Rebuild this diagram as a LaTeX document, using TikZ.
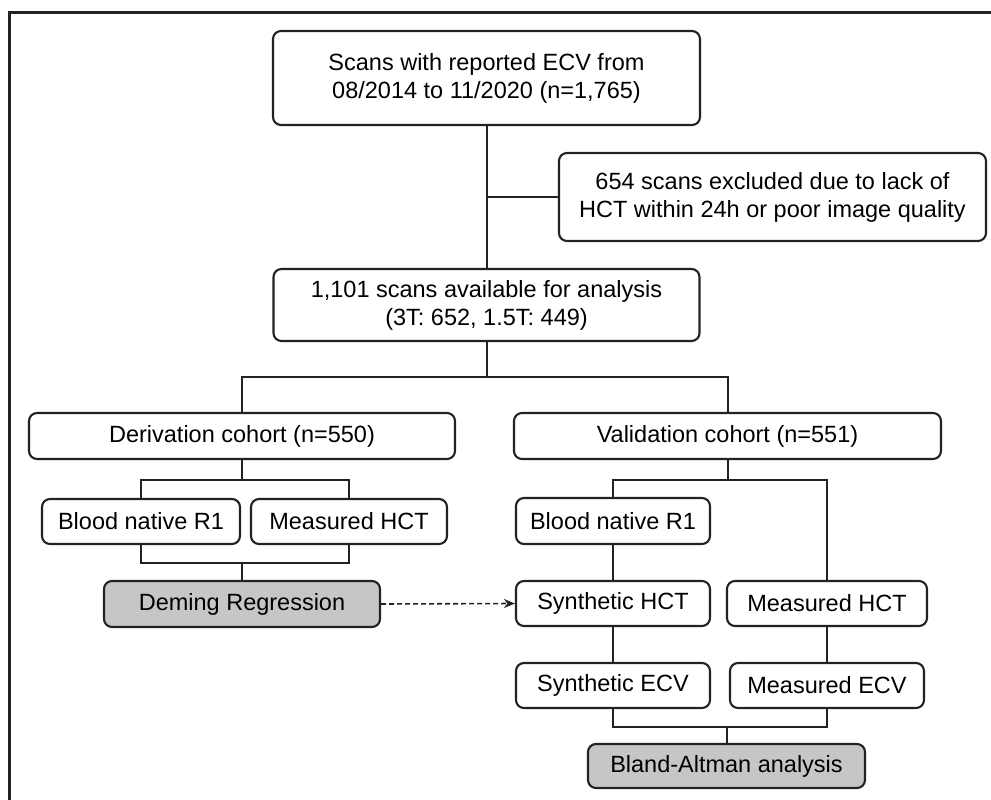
\documentclass[tikz,border=0pt]{standalone}
\usepackage{fontspec}
\setmainfont{Liberation Sans}
\usetikzlibrary{arrows.meta}
\definecolor{ln}{HTML}{222222}
\definecolor{gfill}{HTML}{C6C6C6}
\begin{document}
\begin{tikzpicture}[x=1pt,y=-1pt,
  box/.style={draw=ln,line width=2.1pt,rounded corners=8pt,fill=white,inner sep=0pt,align=center,
    font=\fontsize{23.5}{28}\selectfont,text=black},
  gbox/.style={box,fill=gfill},
  conn/.style={draw=ln,line width=2pt},
  frame/.style={draw=ln,line width=3.2pt}]
\useasboundingbox (0,0) rectangle (991,800);
\draw[frame] (9.5,800) -- (9.5,12.5) -- (991,12.5);

\node[box,minimum width=427pt,minimum height=94pt] (top) at (486.5,78) {Scans with reported ECV from\\08/2014 to 11/2020 (n=1,765)};
\node[box,minimum width=427pt,minimum height=88pt] (excl) at (772.5,197) {654 scans excluded due to lack of\\HCT within 24h or poor image quality};
\node[box,minimum width=426pt,minimum height=72pt] (avail) at (486.5,305) {1,101 scans available for analysis\\(3T: 652, 1.5T: 449)};
\node[box,minimum width=426pt,minimum height=46pt] (deriv) at (242,436) {Derivation cohort (n=550)};
\node[box,minimum width=427pt,minimum height=46pt] (valid) at (727.5,436) {Validation cohort (n=551)};
\node[box,minimum width=198pt,minimum height=45pt] (bl1) at (141,521.5) {Blood native R1};
\node[box,minimum width=196pt,minimum height=45pt] (mh1) at (349,521.5) {Measured HCT};
\node[gbox,minimum width=276pt,minimum height=46pt] (dem) at (242,604) {Deming Regression};
\node[box,minimum width=194pt,minimum height=46pt] (bl2) at (613,521) {Blood native R1};
\node[box,minimum width=194pt,minimum height=45pt] (sh) at (613,603.5) {Synthetic HCT};
\node[box,minimum width=200pt,minimum height=45pt] (mh2) at (827,603.5) {Measured HCT};
\node[box,minimum width=194pt,minimum height=45pt] (se) at (613,685.5) {Synthetic ECV};
\node[box,minimum width=194pt,minimum height=45pt] (me) at (827,685.5) {Measured ECV};
\node[gbox,minimum width=277pt,minimum height=44pt] (ba) at (726.5,766) {Bland-Altman analysis};

% top section
\draw[conn] (top.south) -- (avail.north);
\coordinate (j0) at (top.south |- excl.west);
\draw[conn] (j0) -- (excl.west);
\coordinate (j1) at (486.5,377);
\draw[conn] (avail.south) -- (j1);
\draw[conn] (deriv.north) |- (j1) -| (valid.north);

% derivation
\draw[conn] (deriv.south) -- ++(0,20) coordinate (j2);
\draw[conn] (bl1.north) |- (j2) -| (mh1.north);
\draw[conn] (bl1.south) -- ++(0,18) coordinate (j3) -| (mh1.south);
\draw[conn] (j3 -| dem.north) -- (dem.north);

% validation
\draw[conn] (valid.south) -- ++(0,20) coordinate (j4);
\draw[conn] (bl2.north) |- (j4) -| (mh2.north);
\draw[conn] (bl2.south) -- (sh.north);
\draw[conn] (sh.south) -- (se.north);
\draw[conn] (mh2.south) -- (me.north);
\draw[conn] (se.south) -- ++(0,18) coordinate (j5) -| (me.south);
\draw[conn] (j5 -| ba.north) -- (ba.north);

% dashed arrow
\draw[draw=ln,line width=1.6pt,dash pattern=on 5pt off 3pt,-{Stealth[length=11pt,width=9pt]}] (dem.east) -- (sh.west);
\end{tikzpicture}
\end{document}
